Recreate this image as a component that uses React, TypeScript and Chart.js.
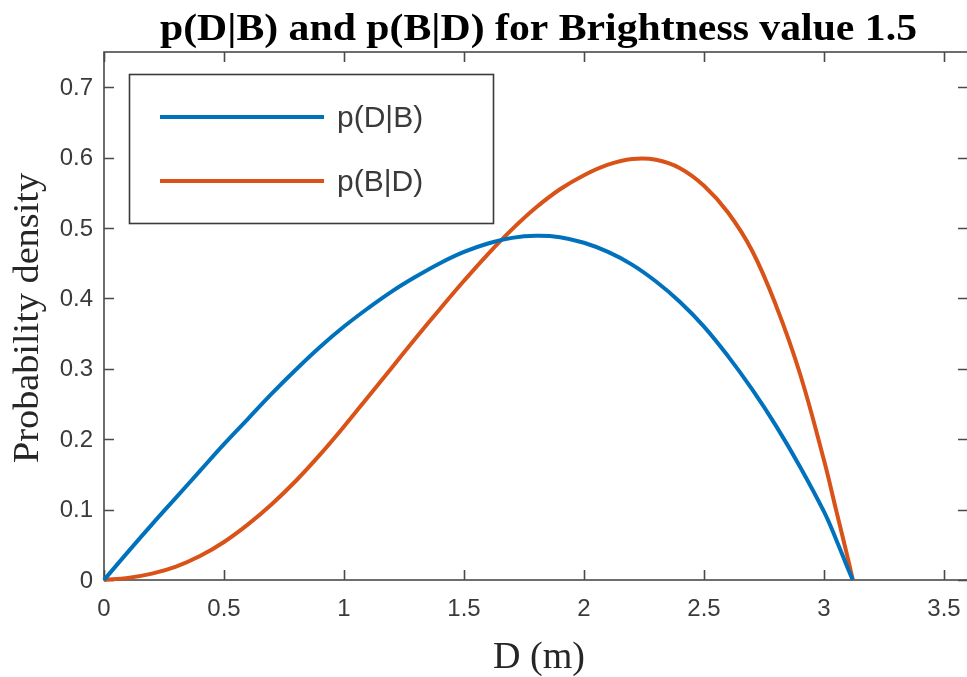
import React, { useEffect, useRef } from "react";
import { Chart, registerables } from "chart.js";

Chart.register(...registerables);

const dValues = [0, 0.1, 0.2, 0.3, 0.4, 0.5, 0.6, 0.7, 0.8, 0.9, 1.0, 1.1, 1.2, 1.3, 1.4, 1.5, 1.6, 1.7, 1.8, 1.9, 2.0, 2.1, 2.2, 2.3, 2.4, 2.5, 2.6, 2.7, 2.8, 2.9, 3.0, 3.05, 3.1, 3.12];
const pDgivenB = [0, 0.04, 0.079, 0.117, 0.155, 0.193, 0.229, 0.265, 0.299, 0.331, 0.36, 0.386, 0.41, 0.431, 0.45, 0.466, 0.478, 0.486, 0.489, 0.487, 0.479, 0.466, 0.448, 0.424, 0.395, 0.36, 0.318, 0.271, 0.219, 0.161, 0.097, 0.058, 0.016, 0];
const pBgivenD = [0, 0.003, 0.009, 0.019, 0.034, 0.054, 0.079, 0.108, 0.141, 0.178, 0.218, 0.26, 0.302, 0.344, 0.385, 0.425, 0.463, 0.498, 0.529, 0.555, 0.575, 0.59, 0.598, 0.597, 0.585, 0.56, 0.522, 0.468, 0.39, 0.293, 0.17, 0.1, 0.03, 0];

const seriesNames = ["p(D|B)", "p(B|D)"];
const seriesColors = ["#0072BD", "#D95319"];
const titleText = "p(D|B) and p(B|D) for Brightness value 1.5";
const xTitle = "D (m)";
const yTitle = "Probability density";
const xTicks = [0, 0.5, 1, 1.5, 2, 2.5, 3, 3.5];
const yTicks = [0, 0.1, 0.2, 0.3, 0.4, 0.5, 0.6, 0.7];
const xMin = 0, xMax = 3.6;
const yMin = 0, yMax = 0.75;

const AXIS = "#4a4a4a";
const TXT = "#3a3a3a";
const SANS = "'Liberation Sans', Arial, sans-serif";
const SERIF = "'Liberation Serif', 'Times New Roman', serif";

function fmt(v: number) {
  return String(Number(v.toFixed(3)));
}

function fitText(ctx: CanvasRenderingContext2D, text: string, x: number, y: number, width: number, rot = 0) {
  const w = ctx.measureText(text).width;
  ctx.save();
  ctx.translate(x, y);
  if (rot) ctx.rotate(rot);
  ctx.scale(width / w, 1);
  ctx.fillText(text, 0, 0);
  ctx.restore();
}

const matlabPlugin = {
  id: "matlabAxes",
  beforeDatasetsDraw(chart: any) {
    const { ctx, chartArea: a, scales } = chart;
    ctx.save();
    ctx.strokeStyle = AXIS;
    ctx.lineWidth = 1.6;
    ctx.strokeRect(a.left, a.top, a.right - a.left, a.bottom - a.top);
    const tl = 10;
    ctx.beginPath();
    for (const t of scales.x.ticks) {
      const px = Math.round(scales.x.getPixelForValue(t.value)) + 0.5;
      ctx.moveTo(px, a.bottom); ctx.lineTo(px, a.bottom - tl);
      ctx.moveTo(px, a.top); ctx.lineTo(px, a.top + tl);
    }
    for (const t of scales.y.ticks) {
      const py = Math.round(scales.y.getPixelForValue(t.value)) + 0.5;
      ctx.moveTo(a.left, py); ctx.lineTo(a.left + tl, py);
      ctx.moveTo(a.right, py); ctx.lineTo(a.right - tl, py);
    }
    ctx.stroke();
    ctx.restore();
  },
  afterDatasetsDraw(chart: any) {
    const { ctx, chartArea: a, scales } = chart;
    ctx.save();
    // tick labels
    ctx.fillStyle = TXT;
    ctx.font = `24px ${SANS}`;
    ctx.textAlign = "center";
    ctx.textBaseline = "middle";
    for (const t of scales.x.ticks) {
      const px = scales.x.getPixelForValue(t.value);
      ctx.fillText(fmt(t.value), px, a.bottom + 29);
    }
    ctx.textAlign = "right";
    for (const t of scales.y.ticks) {
      const py = scales.y.getPixelForValue(t.value);
      ctx.fillText(fmt(t.value), a.left - 11, py + 1);
    }
    // title
    ctx.fillStyle = "#000000";
    ctx.font = `bold 37px ${SERIF}`;
    ctx.textAlign = "center";
    ctx.textBaseline = "alphabetic";
    fitText(ctx, titleText, 538.5, 40, 757);
    // axis titles
    ctx.fillStyle = "#262626";
    ctx.font = `38px ${SERIF}`;
    fitText(ctx, xTitle, 539, 668, 92);
    ctx.font = `35px ${SERIF}`;
    fitText(ctx, yTitle, 38, 318, 290, -Math.PI / 2);
    // legend
    const lx = 129.5, ly = 74.5, lw = 364, lh = 149;
    ctx.fillStyle = "#ffffff";
    ctx.fillRect(lx, ly, lw, lh);
    ctx.strokeStyle = "#3a3a3a";
    ctx.lineWidth = 1.6;
    ctx.strokeRect(lx, ly, lw, lh);
    const rows = [117, 181];
    ctx.font = `30px ${SANS}`;
    ctx.textAlign = "left";
    ctx.textBaseline = "middle";
    seriesNames.forEach((name, i) => {
      ctx.strokeStyle = seriesColors[i];
      ctx.lineWidth = 4;
      ctx.beginPath();
      ctx.moveTo(160, rows[i]);
      ctx.lineTo(324, rows[i]);
      ctx.stroke();
      ctx.fillStyle = TXT;
      ctx.fillText(name, 337, rows[i] + 2);
    });
    ctx.restore();
  },
};

export default function App() {
  const ref = useRef<HTMLCanvasElement | null>(null);
  useEffect(() => {
    if (!ref.current) return;
    const chart = new Chart(ref.current, {
      type: "line",
      data: {
        datasets: [pDgivenB, pBgivenD].map((vals, i) => ({
          label: seriesNames[i],
          data: dValues.map((d, j) => ({ x: d, y: vals[j] })),
          borderColor: seriesColors[i],
          backgroundColor: seriesColors[i],
          borderWidth: 4,
          pointRadius: 0,
          tension: 0.4,
          clip: 6,
        })),
      },
      options: {
        responsive: false,
        animation: false,
        devicePixelRatio: 1,
        layout: { padding: { left: 104, top: 52, right: 12, bottom: 97 } },
        plugins: { legend: { display: false }, title: { display: false }, tooltip: { enabled: false } },
        scales: {
          x: {
            type: "linear", display: false, min: xMin, max: xMax,
            afterBuildTicks: (s: any) => { s.ticks = xTicks.map((v) => ({ value: v })); },
          },
          y: {
            type: "linear", display: false, min: yMin, max: yMax,
            afterBuildTicks: (s: any) => { s.ticks = yTicks.map((v) => ({ value: v })); },
          },
        },
      },
      plugins: [matlabPlugin],
    });
    return () => chart.destroy();
  }, []);
  return (
    <div style={{ position: "fixed", left: 0, top: 0, width: 967, height: 677, overflow: "hidden", background: "#fff" }}>
      <canvas ref={ref} width={980} height={677} style={{ display: "block" }} />
    </div>
  );
}
